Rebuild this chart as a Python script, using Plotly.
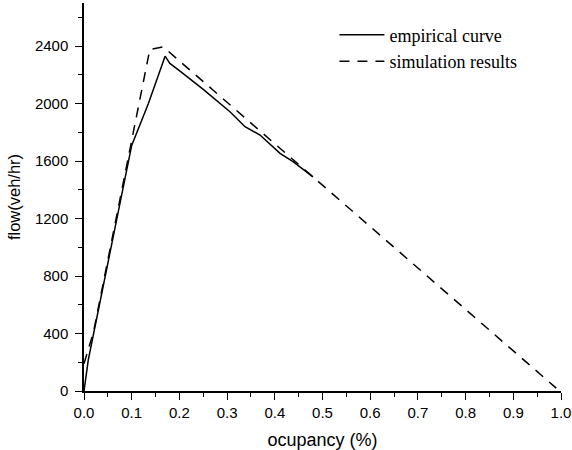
import plotly.graph_objects as go

# empirical curve
emp_x = [0.0, 0.009, 0.1, 0.135, 0.17, 0.18, 0.2, 0.25, 0.306, 0.3375, 0.369, 0.411, 0.439, 0.48]
emp_y = [0, 216, 1709, 2001, 2330, 2280, 2230, 2099, 1943, 1839, 1781, 1654, 1595, 1490]

# simulation results
sim_x = [0.0, 0.02, 0.138, 0.166, 0.99]
sim_y = [190, 412, 2377, 2395, 20]

x_ticks = [0.0, 0.1, 0.2, 0.3, 0.4, 0.5, 0.6, 0.7, 0.8, 0.9, 1.0]
y_ticks = [0, 400, 800, 1200, 1600, 2000, 2400]

fig = go.Figure()
fig.add_trace(go.Scatter(x=emp_x, y=emp_y, mode="lines", name="empirical curve",
                         line=dict(color="black", width=1.5)))
fig.add_trace(go.Scatter(x=sim_x, y=sim_y, mode="lines", name="simulation results",
                         line=dict(color="black", width=1.5, dash="10px,8px")))

axis_common = dict(
    showgrid=False, zeroline=False, showline=True, linecolor="black", linewidth=1.5,
    ticks="outside", ticklen=7, tickwidth=1.2, tickcolor="black",
    tickfont=dict(family="Liberation Sans, Arial", size=15, color="black"),
)

fig.update_layout(
    width=572, height=450,
    margin=dict(l=84, r=11, t=3, b=59, autoexpand=False),
    plot_bgcolor="white", paper_bgcolor="white",
    xaxis=dict(range=[0, 1.0], tickvals=x_ticks, ticktext=[f"{v:.1f}" for v in x_ticks],
               minor=dict(ticks="outside", ticklen=4, dtick=0.05, tickcolor="black", tickwidth=1.2),
               title=dict(text="ocupancy (%)", font=dict(family="Liberation Sans, Arial", size=18, color="black"),
                          standoff=15),
               automargin=False,
               **axis_common),
    yaxis=dict(range=[0, 2700], tickvals=y_ticks, ticklabelstandoff=4,
               minor=dict(ticks="outside", ticklen=4, dtick=200, tickcolor="black", tickwidth=1.2),
               title=dict(text="flow(veh/hr)", font=dict(family="Liberation Sans, Arial", size=16.5, color="black"),
                          standoff=10),
               automargin=False,
               **axis_common),
    legend=dict(x=0.525, y=0.965, xanchor="left", yanchor="top",
                font=dict(family="Liberation Serif, Times New Roman", size=18, color="black"),
                bgcolor="rgba(0,0,0,0)", tracegroupgap=0, itemwidth=45),
    showlegend=True,
)

fig.write_html("out.html", config={"displayModeBar": False},
               post_script="document.body.style.margin='0';")
